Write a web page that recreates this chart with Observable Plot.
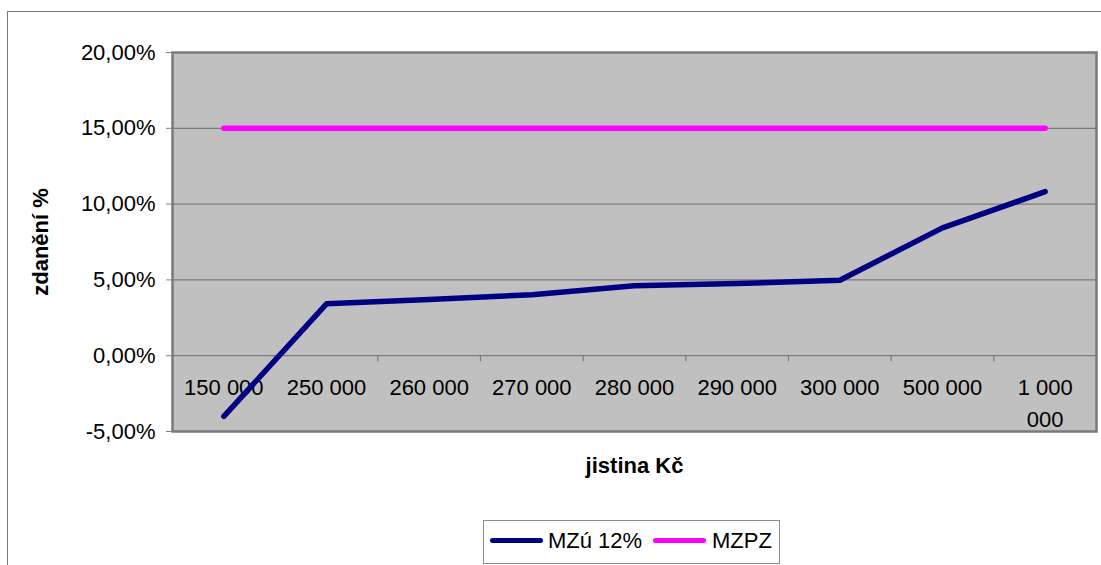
<!DOCTYPE html>
<html>
<head>
<meta charset="utf-8">
<script src="https://cdn.jsdelivr.net/npm/d3@7"></script>
<script src="https://cdn.jsdelivr.net/npm/@observablehq/plot@0.6"></script>
<style>
  html, body { margin: 0; padding: 0; background: #fff; overflow: hidden; }
  #wrap { position: relative; width: 1101px; height: 565px; overflow: hidden; font-family: "Liberation Sans", Arial, sans-serif; }
  #outer { position: absolute; left: 7px; top: 11px; width: 1200px; height: 700px; border: 1.5px solid #7a7a7a; box-sizing: border-box; }
  #chart { position: absolute; left: 0; top: 0; }
  #chart svg [aria-label^="y-axis"] line, #chart svg [aria-label="y-axis tick"] path { stroke: #808080; }
  #legend { position: absolute; left: 483px; top: 520px; width: 297px; height: 44px; border: 1px solid #8c8c8c; box-sizing: border-box; background: #fff; }
  .sw { position: absolute; height: 5px; border-radius: 3px; top: 17px; width: 53px; }
  .lt { position: absolute; top: 7px; font-size: 22px; line-height: 26px; color: #000; white-space: nowrap; }
</style>
</head>
<body>
<div id="wrap">
  <div id="outer"></div>
  <div id="chart"></div>
  <div id="legend"></div>
</div>
<script>
// ---- data ----
const categories = ["150 000", "250 000", "260 000", "270 000", "280 000", "290 000", "300 000", "500 000", "1 000 000"];
const mzu12 = [-4.0, 3.42, 3.71, 4.02, 4.62, 4.76, 4.98, 8.43, 10.82];
const mzpz = [15, 15, 15, 15, 15, 15, 15, 15, 15];
const yTicks = [-5, 0, 5, 10, 15, 20];
const seriesNames = ["MZú 12%", "MZPZ"];
const seriesColors = ["#000080", "#FF00FF"];
const xTitle = "jistina Kč";
const yTitle = "zdanění %";

// ---- derived tables ----
const n = categories.length;
const rows = categories.map((c, i) => ({ i, c, mzu: mzu12[i], mzpz: mzpz[i] }));
const boundaries = d3.range(1, n).map(i => i - 0.5);
const fmt = d => d.toFixed(2).replace(".", ",") + "%";
// long labels wrap at their last space (as the category band is too narrow)
const wrapLabel = s => s.length > 7 ? s.replace(/ (\d+)$/, "\n$1") : s;

const chart = Plot.plot({
  width: 1101,
  height: 505,
  marginLeft: 172,
  marginRight: 5,
  marginTop: 52,
  marginBottom: 74,
  style: { fontSize: "22px", fontFamily: "'Liberation Sans', Arial, sans-serif", color: "#000", background: "transparent" },
  x: { type: "linear", domain: [-0.5, n - 0.5], axis: null },
  y: { domain: [d3.min(yTicks), d3.max(yTicks)], ticks: yTicks, tickFormat: fmt, tickSize: 6, tickPadding: 11, label: null },
  marks: [
    Plot.frame({ fill: "#C0C0C0", stroke: null }),
    Plot.ruleY(yTicks, { stroke: "#7a7a7a", strokeWidth: 1.2 }),
    Plot.ruleX(boundaries, { x: d => d, y1: 0, y2: 0, insetBottom: -6, stroke: "#7a7a7a", strokeWidth: 1.2 }),
    Plot.frame({ stroke: "#7a7a7a", strokeWidth: 2.5 }),
    Plot.text(rows, { x: "i", y: 0, text: d => wrapLabel(d.c), dy: 17, lineAnchor: "top", lineHeight: 1.45, fontSize: 22, fill: "#000" }),
    Plot.line(rows, { x: "i", y: "mzpz", stroke: seriesColors[1], strokeWidth: 5.5, strokeLinecap: "round", strokeLinejoin: "round" }),
    Plot.line(rows, { x: "i", y: "mzu", stroke: seriesColors[0], strokeWidth: 5.5, strokeLinecap: "round", strokeLinejoin: "round" }),
    Plot.text([xTitle], { frameAnchor: "bottom", dy: 41, fontWeight: "bold", fontSize: 22, fill: "#000" }),
    Plot.text([yTitle], { frameAnchor: "left", textAnchor: "middle", dx: -132, rotate: -90, fontWeight: "bold", fontSize: 22, fill: "#000" })
  ]
});
document.getElementById("chart").appendChild(chart);

// ---- legend ----
const legend = document.getElementById("legend");
const legendLayout = [[6, 64], [169, 228]];
seriesNames.forEach((name, k) => {
  const sw = document.createElement("div");
  sw.className = "sw";
  sw.style.left = legendLayout[k][0] + "px";
  sw.style.background = seriesColors[k];
  legend.appendChild(sw);
  const t = document.createElement("div");
  t.className = "lt";
  t.style.left = legendLayout[k][1] + "px";
  t.textContent = name;
  legend.appendChild(t);
});
</script>
</body>
</html>
